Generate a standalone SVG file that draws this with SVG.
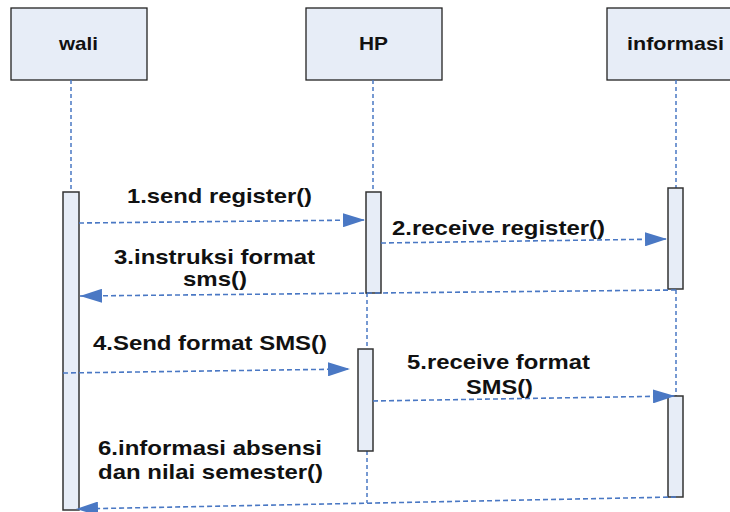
<svg xmlns="http://www.w3.org/2000/svg" width="730" height="512" viewBox="0 0 730 512">
<style>
.box{fill:#e7edf7;stroke:#222;stroke-width:1.3}
.bar{fill:#e7edf7;stroke:#333;stroke-width:1.5}
.life{stroke:#4a78c4;stroke-width:1.5;stroke-dasharray:4 3;fill:none}
.msg{stroke:#4a78c4;stroke-width:1.6;stroke-dasharray:5 3;fill:none}
.hd{font-family:"Liberation Sans",Arial,sans-serif;font-weight:bold;font-size:19px;fill:#111}
.lb{font-family:"Liberation Sans",Arial,sans-serif;font-weight:bold;font-size:21px;fill:#111}
</style>
<defs>
<marker id="ah" markerUnits="userSpaceOnUse" markerWidth="24" markerHeight="14" refX="22" refY="7" orient="auto">
<path d="M0,0 L22,7 L0,14 Z" fill="#4a78c4"/>
</marker>
</defs>
<g id="wali">
<rect class="box" x="11" y="8" width="136" height="72"/>
<text class="hd" x="59" y="50" textLength="39" lengthAdjust="spacingAndGlyphs">wali</text>
<line class="life" x1="71" y1="80" x2="71" y2="192"/>
<rect class="bar" x="63" y="192" width="16" height="318"/>
</g>
<g id="HP">
<rect class="box" x="306" y="8" width="136" height="72"/>
<text class="hd" x="359" y="50" textLength="29" lengthAdjust="spacingAndGlyphs">HP</text>
<line class="life" x1="373" y1="80" x2="373" y2="192"/>
<line class="life" x1="367" y1="293" x2="367" y2="349"/>
<line class="life" x1="367" y1="451" x2="367" y2="503"/>
<rect class="bar" x="366" y="192" width="15" height="101"/>
<rect class="bar" x="358" y="349" width="15" height="102"/>
</g>
<g id="informasi">
<rect class="box" x="607" y="8" width="136" height="72"/>
<text class="hd" x="627" y="50" textLength="97" lengthAdjust="spacingAndGlyphs">informasi</text>
<line class="life" x1="676" y1="80" x2="676" y2="188"/>
<line class="life" x1="676" y1="290" x2="676" y2="396"/>
<rect class="bar" x="668" y="188" width="15" height="101"/>
<rect class="bar" x="668" y="396" width="15" height="101"/>
</g>
<g id="connectors">
<line class="msg" x1="79" y1="223" x2="365" y2="220" marker-end="url(#ah)"/>
<line class="msg" x1="381" y1="243" x2="667" y2="239" marker-end="url(#ah)"/>
<line class="msg" x1="676" y1="290" x2="80" y2="296" marker-end="url(#ah)"/>
<line class="msg" x1="63" y1="373" x2="350" y2="369" marker-end="url(#ah)"/>
<line class="msg" x1="373" y1="401" x2="675" y2="396" marker-end="url(#ah)"/>
<line class="msg" x1="676" y1="497" x2="76" y2="509" marker-end="url(#ah)"/>
</g>
<g id="labels">
<text class="lb" x="127" y="203" textLength="185" lengthAdjust="spacingAndGlyphs">1.send register()</text>
<text class="lb" x="392" y="235" textLength="213" lengthAdjust="spacingAndGlyphs">2.receive register()</text>
<text class="lb" x="114" y="264" textLength="201" lengthAdjust="spacingAndGlyphs">3.instruksi format</text>
<text class="lb" x="183" y="286" textLength="64" lengthAdjust="spacingAndGlyphs">sms()</text>
<text class="lb" x="93" y="350" textLength="234" lengthAdjust="spacingAndGlyphs">4.Send format SMS()</text>
<text class="lb" x="407" y="369" textLength="183" lengthAdjust="spacingAndGlyphs">5.receive format</text>
<text class="lb" x="466" y="394" textLength="67" lengthAdjust="spacingAndGlyphs">SMS()</text>
<text class="lb" x="98" y="455" textLength="224" lengthAdjust="spacingAndGlyphs">6.informasi absensi</text>
<text class="lb" x="98" y="479" textLength="225" lengthAdjust="spacingAndGlyphs">dan nilai semester()</text>
</g>
</svg>
